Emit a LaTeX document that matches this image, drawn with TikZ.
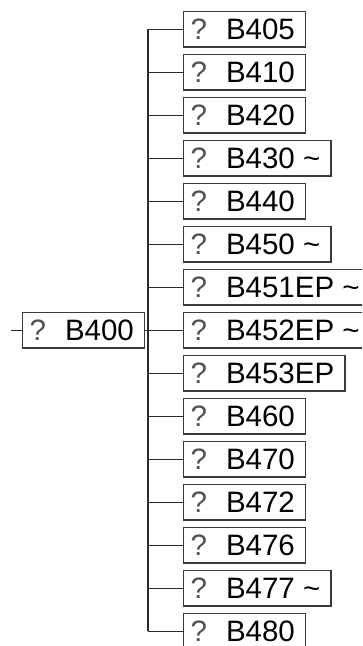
\documentclass[tikz,border=0pt]{standalone}
\usepackage{fontspec}
\setmainfont{Liberation Sans}
\definecolor{boxgray}{HTML}{3A3A3A}
\definecolor{wiregray}{HTML}{2A2A2A}
\definecolor{qgray}{HTML}{505050}
\newcommand{\itemlbl}[1]{\kern7pt\makebox[35.4pt][l]{\textcolor{qgray}{?}}#1\kern10.7pt\relax}
\tikzset{
  item/.style={draw=boxgray, line width=1.2pt, fill=white, inner xsep=0pt, inner ysep=0pt,
    minimum height=35.5pt, text height=21pt, text depth=0pt, anchor=west,
    font=\fontsize{29.5pt}{30pt}\selectfont},
  wire/.style={line width=1.1pt, draw=wiregray}
}
\begin{document}
\begin{tikzpicture}[x=1pt,y=-1pt]
\useasboundingbox (0,0) rectangle (362,646);
\clip (0,0) rectangle (362,646);
\fill[white] (0,0) rectangle (362,646);
\coordinate (ttop) at (148,29.2);
\coordinate (tbot) at (148,631.2);
\coordinate (stub) at (11,330.2);
\node[item] (root) at (22,330.2) {\itemlbl{B400}};
\node[item] (c1)  at (183,29.2)  {\itemlbl{B405}};
\node[item] (c2)  at (183,72.2)  {\itemlbl{B410}};
\node[item] (c3)  at (183,115.2) {\itemlbl{B420}};
\node[item] (c4)  at (183,158.2) {\itemlbl{B430 \textasciitilde}};
\node[item] (c5)  at (183,201.2) {\itemlbl{B440}};
\node[item] (c6)  at (183,244.2) {\itemlbl{B450 \textasciitilde}};
\node[item] (c7)  at (183,287.2) {\itemlbl{B451EP \textasciitilde}};
\node[item] (c8)  at (183,330.2) {\itemlbl{B452EP \textasciitilde}};
\node[item] (c9)  at (183,373.2) {\itemlbl{B453EP}};
\node[item] (c10) at (183,416.2) {\itemlbl{B460}};
\node[item] (c11) at (183,459.2) {\itemlbl{B470}};
\node[item] (c12) at (183,502.2) {\itemlbl{B472}};
\node[item] (c13) at (183,545.2) {\itemlbl{B476}};
\node[item] (c14) at (183,588.2) {\itemlbl{B477 \textasciitilde}};
\node[item] (c15) at (183,631.2) {\itemlbl{B480}};
\draw[wire] (ttop) -- (tbot);
\draw[wire] (stub) -- (root.west);
\draw[wire] (root.east) -- (root.east -| ttop);
\foreach \c in {c1,c2,c3,c4,c5,c6,c7,c8,c9,c10,c11,c12,c13,c14,c15}{
  \draw[wire] (\c.west) -- (\c.west -| ttop);
}
\end{tikzpicture}
\end{document}
